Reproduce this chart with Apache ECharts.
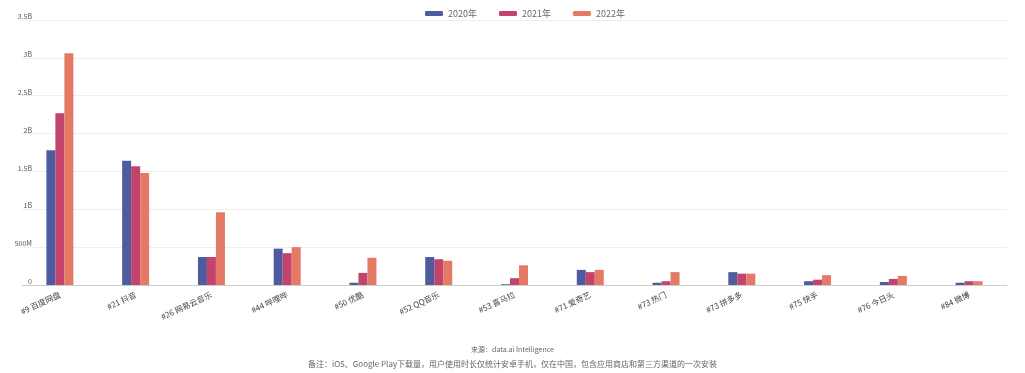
<!DOCTYPE html>
<html>
<head>
<meta charset="utf-8">
<script src="https://cdn.jsdelivr.net/npm/echarts@6/dist/echarts.min.js"></script>
<style>
  html, body { margin: 0; padding: 0; background: #fff; }
  #main { width: 1025px; height: 373px; }
</style>
</head>
<body>
<div id="main"></div>
<script>
// 分类（排名 + 名称）
const categories = ['#9 百度网盘', '#21 抖音', '#26 网易云音乐', '#44 哔哩哔', '#50 优酷', '#52 QQ音乐', '#53 喜马拉', '#71 爱奇艺', '#73 热门', '#73 拼多多', '#75 快手', '#76 今日头', '#84 微博']
const years = ['2020年', '2021年', '2022年']
// 单位：十亿
const data2020 = [1.78, 1.64, 0.37, 0.48, 0.03, 0.37, 0.01, 0.20, 0.03, 0.17, 0.05, 0.04, 0.03]
const data2021 = [2.27, 1.57, 0.37, 0.42, 0.16, 0.34, 0.09, 0.17, 0.05, 0.15, 0.07, 0.08, 0.05]
const data2022 = [3.06, 1.48, 0.96, 0.50, 0.36, 0.32, 0.26, 0.20, 0.17, 0.15, 0.13, 0.12, 0.05]
const yTicks = ['0', '500M', '1B', '1.5B', '2B', '2.5B', '3B', '3.5B']
const colors = ['#4d5c9e', '#c2436c', '#e47a66']

const chart = echarts.init(document.getElementById('main'))

function bar (name, data, color) {
  return {
    name: name,
    type: 'bar',
    data: data,
    barWidth: 9,
    barGap: '0%',
    itemStyle: { color: color }
  }
}

chart.setOption({
  animation: false,
  color: colors,
  textStyle: { fontFamily: 'Noto Sans CJK SC' },
  legend: {
    top: 4,
    left: 420,
    itemWidth: 18,
    itemHeight: 5,
    itemGap: 22,
    icon: 'roundRect',
    textStyle: { fontSize: 9, color: '#666' },
    data: years
  },
  grid: {
    left: 22,
    right: 18,
    top: 20,
    bottom: 88
  },
  xAxis: {
    type: 'category',
    data: categories,
    axisLine: { lineStyle: { color: '#ccc' } },
    axisTick: { show: false },
    axisLabel: {
      rotate: 25,
      fontSize: 8,
      color: '#444',
      margin: 9,
      interval: 0
    }
  },
  yAxis: {
    type: 'value',
    min: 0,
    max: 3.5,
    interval: 0.5,
    axisLine: { show: false },
    axisTick: { show: false },
    splitLine: { lineStyle: { color: '#eee' } },
    axisLabel: {
      fontSize: 7,
      color: '#555',
      margin: -10,
      verticalAlign: 'bottom',
      formatter: function (v) { return yTicks[Math.round(v / 0.5)] }
    }
  },
  graphic: [
    {
      type: 'text',
      left: 'center',
      top: 346,
      style: { text: '来源：data.ai Intelligence', fontSize: 7, fill: '#666', fontFamily: 'Noto Sans CJK SC' }
    },
    {
      type: 'text',
      left: 'center',
      top: 360,
      style: { text: '备注：iOS、Google Play下载量，用户使用时长仅统计安卓手机，仅在中国，包含应用商店和第三方渠道的一次安装', fontSize: 8, fill: '#666', fontFamily: 'Noto Sans CJK SC' }
    }
  ],
  series: [
    bar(years[0], data2020, colors[0]),
    bar(years[1], data2021, colors[1]),
    bar(years[2], data2022, colors[2])
  ]
})
</script>
</body>
</html>
